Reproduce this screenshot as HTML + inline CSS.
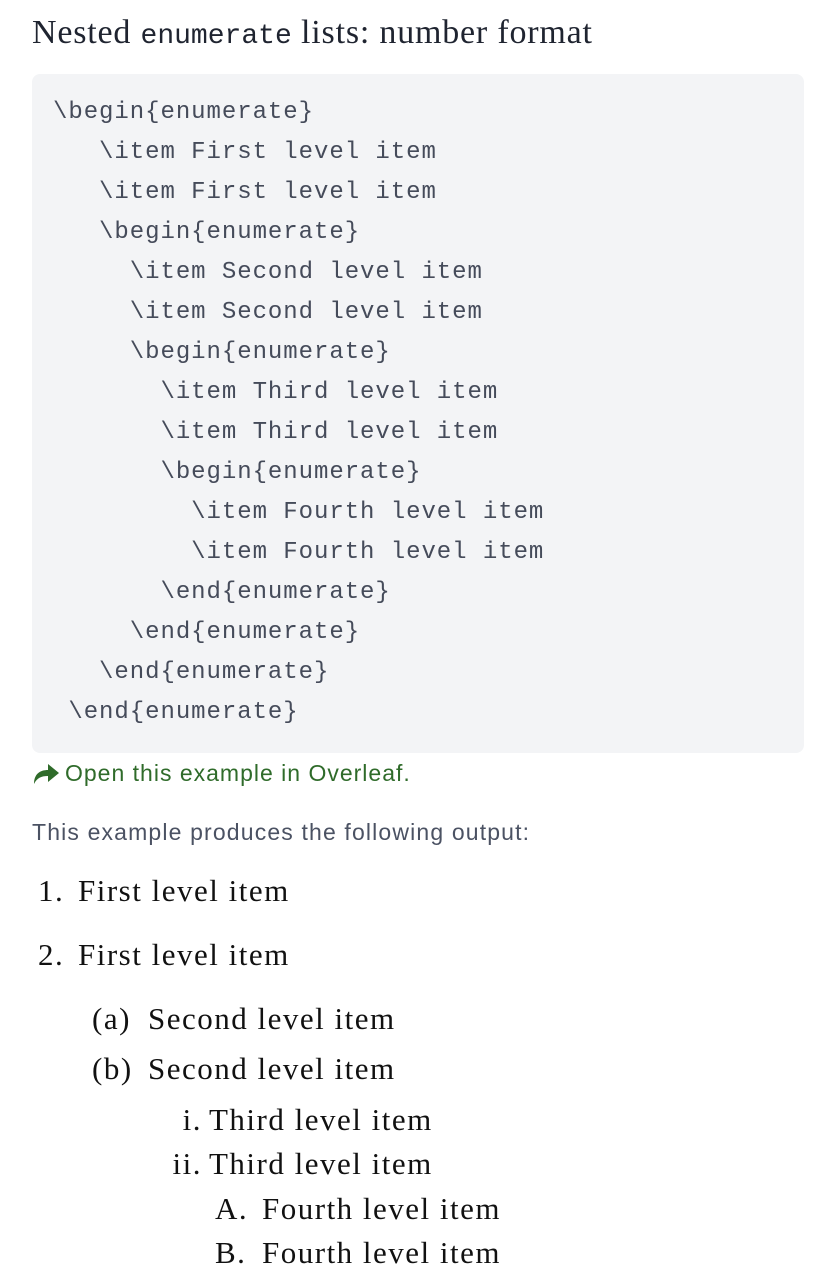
<!DOCTYPE html>
<html><head><meta charset="utf-8"><style>
body{margin:0;width:834px;height:1278px;background:#fff;position:relative;overflow:hidden}
.a{position:absolute;white-space:pre;line-height:1}
.t{font-family:"Liberation Serif",serif;font-size:34px;color:#1f2430;left:32px;top:16px;letter-spacing:0.8px}
.t span{font-family:"Liberation Mono",monospace;font-size:28px;letter-spacing:0}
.box{position:absolute;left:32px;top:74px;width:772px;height:679px;background:#f3f4f6;border-radius:8px}
.c{font-family:"Liberation Mono",monospace;font-size:24px;letter-spacing:0.95px;color:#454b5a;left:53px}
.lk{font-family:"Liberation Sans",sans-serif;font-size:23px;letter-spacing:1px;color:#2f6b2a;left:65px;top:762px}
.p{font-family:"Liberation Sans",sans-serif;font-size:23px;letter-spacing:1.15px;color:#4b5263;left:32px;top:821px}
.o{font-family:"Liberation Serif",serif;font-size:31px;letter-spacing:1.5px;color:#111}
</style></head><body>
<div class="a t">Nested <span>enumerate</span> lists: number format</div>
<div class="box"></div>
<div class="a c" style="top:101px">\begin{enumerate}</div>
<div class="a c" style="top:141px">   \item First level item</div>
<div class="a c" style="top:181px">   \item First level item</div>
<div class="a c" style="top:221px">   \begin{enumerate}</div>
<div class="a c" style="top:261px">     \item Second level item</div>
<div class="a c" style="top:301px">     \item Second level item</div>
<div class="a c" style="top:341px">     \begin{enumerate}</div>
<div class="a c" style="top:381px">       \item Third level item</div>
<div class="a c" style="top:421px">       \item Third level item</div>
<div class="a c" style="top:461px">       \begin{enumerate}</div>
<div class="a c" style="top:501px">         \item Fourth level item</div>
<div class="a c" style="top:541px">         \item Fourth level item</div>
<div class="a c" style="top:581px">       \end{enumerate}</div>
<div class="a c" style="top:621px">     \end{enumerate}</div>
<div class="a c" style="top:661px">   \end{enumerate}</div>
<div class="a c" style="top:701px"> \end{enumerate}</div>
<svg style="position:absolute;left:32px;top:762px" width="28" height="24" viewBox="0 0 28 24"><path d="M2 22 C2 12 8 8 16 8 L16 2 L27 11 L16 20 L16 14 C9 14 5 16 2 22Z" fill="#2f6b2a"/></svg>
<div class="a lk">Open this example in Overleaf.</div>
<div class="a p">This example produces the following output:</div>
<div class="a o" style="left:38px;top:875px">1.</div><div class="a o" style="left:78px;top:875px">First level item</div>
<div class="a o" style="left:38px;top:939px">2.</div><div class="a o" style="left:78px;top:939px">First level item</div>
<div class="a o" style="left:92px;top:1003px">(a)</div><div class="a o" style="left:148px;top:1003px">Second level item</div>
<div class="a o" style="left:92px;top:1053px">(b)</div><div class="a o" style="left:148px;top:1053px">Second level item</div>
<div class="a o" style="right:632px;top:1104px">i.</div><div class="a o" style="left:209px;top:1104px">Third level item</div>
<div class="a o" style="right:632px;top:1148px">ii.</div><div class="a o" style="left:209px;top:1148px">Third level item</div>
<div class="a o" style="left:215px;top:1193px">A.</div><div class="a o" style="left:262px;top:1193px">Fourth level item</div>
<div class="a o" style="left:215px;top:1237px">B.</div><div class="a o" style="left:262px;top:1237px">Fourth level item</div>
</body></html>
